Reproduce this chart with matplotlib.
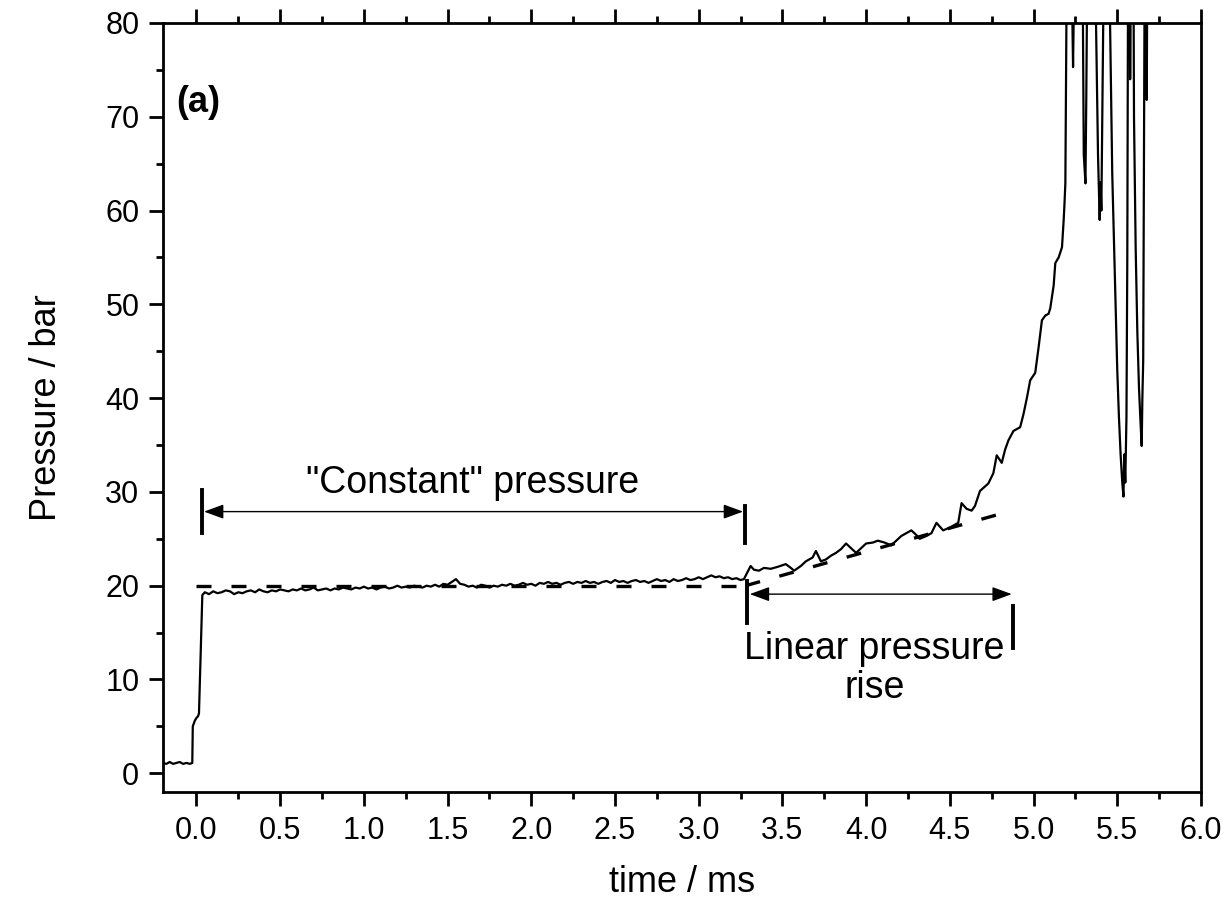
import matplotlib
matplotlib.use("Agg")
import matplotlib.pyplot as plt
from matplotlib.ticker import MultipleLocator

plt.rcParams['font.family'] = ['Liberation Sans', 'DejaVu Sans']

# pressure trace (time in ms, pressure in bar)
t_pre = [-0.2, -0.18, -0.16, -0.14, -0.12, -0.10, -0.08, -0.06, -0.04, -0.025]
p_pre = [1.1, 1.0, 1.2, 1.0, 1.1, 1.2, 1.0, 1.1, 1.0, 1.1]

t_step = [-0.022, -0.01, 0.0, 0.01, 0.015, 0.035, 0.05]
p_step = [5.0, 5.6, 5.9, 6.1, 6.4, 19.0, 19.3]

t_flat = [0.075, 0.1, 0.125, 0.15, 0.175, 0.2, 0.225, 0.25, 0.275, 0.3,
          0.325, 0.35, 0.375, 0.4, 0.425, 0.45, 0.475, 0.5, 0.525, 0.55,
          0.575, 0.6, 0.625, 0.65, 0.675, 0.7, 0.725, 0.75, 0.775, 0.8,
          0.825, 0.85, 0.875, 0.9, 0.925, 0.95, 0.975, 1.0, 1.025, 1.05,
          1.075, 1.1, 1.125, 1.15, 1.175, 1.2, 1.225, 1.25, 1.275, 1.3,
          1.325, 1.35, 1.375, 1.4, 1.425, 1.45, 1.475, 1.5, 1.525, 1.55,
          1.575, 1.6, 1.625, 1.65, 1.675, 1.7, 1.725, 1.75, 1.775, 1.8,
          1.825, 1.85, 1.875, 1.9, 1.925, 1.95, 1.975, 2.0, 2.025, 2.05,
          2.075, 2.1, 2.125, 2.15, 2.175, 2.2, 2.225, 2.25, 2.275, 2.3,
          2.325, 2.35, 2.375, 2.4, 2.425, 2.45, 2.475, 2.5, 2.525, 2.55,
          2.575, 2.6, 2.625, 2.65, 2.675, 2.7, 2.725, 2.75, 2.775, 2.8,
          2.825, 2.85, 2.875, 2.9, 2.925, 2.95, 2.975, 3.0, 3.025, 3.05,
          3.075, 3.1, 3.125, 3.15, 3.175, 3.2, 3.225, 3.25, 3.27]
p_flat = [19.1, 19.4, 19.2, 19.3, 19.5, 19.4, 19.1, 19.3, 19.2, 19.4,
          19.5, 19.3, 19.6, 19.4, 19.3, 19.5, 19.4, 19.6, 19.5, 19.4,
          19.6, 19.5, 19.7, 19.5, 19.6, 19.8, 19.5, 19.6, 19.7, 19.5,
          19.7, 19.6, 19.8, 19.7, 19.6, 19.8, 19.7, 19.9, 19.7, 19.8,
          19.6, 19.8, 19.9, 19.7, 19.8, 20.0, 19.8, 19.9, 19.8, 20.0,
          19.9, 19.8, 20.0, 19.9, 20.1, 19.9, 20.2, 20.1, 20.4, 20.7,
          20.2, 20.1, 19.9, 20.0, 19.8, 20.1, 20.0, 19.8, 20.0, 19.9,
          20.1, 20.0, 20.2, 20.0, 20.1, 20.3, 20.1, 20.2, 20.0, 20.3,
          20.2, 20.4, 20.2, 20.3, 20.1, 20.3, 20.4, 20.2, 20.4, 20.3,
          20.5, 20.3, 20.4, 20.2, 20.4, 20.5, 20.3, 20.6, 20.4, 20.5,
          20.3, 20.5, 20.6, 20.4, 20.5, 20.3, 20.5, 20.7, 20.5, 20.6,
          20.4, 20.7, 20.5, 20.6, 20.8, 20.6, 20.7, 20.9, 20.7, 20.9,
          21.1, 20.9, 21.0, 20.8, 20.9, 20.7, 20.8, 20.6, 20.7]

t_rise = [3.31, 3.33, 3.36, 3.39, 3.43, 3.47, 3.52, 3.55, 3.57, 3.61,
          3.64, 3.68, 3.70, 3.73, 3.76, 3.79, 3.82, 3.85, 3.88, 3.91,
          3.94, 3.97, 4.0, 4.04, 4.07, 4.11, 4.15, 4.18, 4.21, 4.24,
          4.27, 4.30, 4.32, 4.36, 4.39, 4.42, 4.44, 4.46, 4.50, 4.53,
          4.55, 4.57, 4.60, 4.63, 4.65, 4.68, 4.73, 4.76, 4.78, 4.81,
          4.83, 4.85, 4.88, 4.92, 4.94, 4.96, 4.98, 5.01, 5.03, 5.05,
          5.07, 5.09, 5.10, 5.12, 5.13, 5.15, 5.17, 5.18, 5.185, 5.19]
p_rise = [22.1, 21.7, 21.6, 21.9, 21.8, 22.0, 22.3, 21.9, 21.6, 22.1,
          22.6, 23.0, 23.7, 22.6, 22.8, 23.2, 23.5, 23.9, 24.5, 24.0,
          23.5, 24.0, 24.5, 24.6, 24.8, 24.6, 24.3, 24.8, 25.3, 25.6,
          25.9, 25.4, 25.0, 25.3, 25.6, 26.7, 26.3, 25.9, 26.2, 26.5,
          26.7, 28.8, 28.2, 28.0, 28.5, 30.1, 30.9, 32.0, 33.9, 33.1,
          34.5, 35.5, 36.5, 36.9, 38.3, 40.0, 41.9, 42.7, 45.4, 48.3,
          48.8, 49.0, 49.6, 52.0, 54.4, 55.0, 56.1, 59.0, 60.8, 62.9]

t_knock = [5.20, 5.22, 5.236, 5.25, 5.28, 5.295, 5.30, 5.31, 5.315, 5.325,
           5.36, 5.375, 5.385, 5.395, 5.40, 5.405, 5.415, 5.425, 5.45, 5.457,
           5.47, 5.49, 5.50, 5.51, 5.52, 5.53, 5.537, 5.542, 5.548, 5.555,
           5.56, 5.566, 5.572, 5.577, 5.585, 5.595, 5.60, 5.61, 5.62, 5.63,
           5.64, 5.646, 5.65, 5.655, 5.66, 5.666, 5.672, 5.676, 5.682]
p_knock = [90, 95, 75.3, 95, 95, 80, 66, 62.9, 72, 95,
           95, 78, 66, 59.0, 63, 60, 78, 95, 95, 80,
           64, 50, 43, 38, 34, 31, 29.5, 34, 31, 38,
           55, 95, 95, 74, 95, 95, 70, 56, 47, 41,
           37, 34.9, 40, 44, 70, 95, 95, 71.8, 95]

time = t_pre + t_step + t_flat + t_rise + t_knock
pressure = p_pre + p_step + p_flat + p_rise + p_knock

# guide lines
const_t = [0.0, 3.28]
const_p = [20.0, 20.0]
lin_t = [3.28, 4.83]
lin_p = [20.0, 27.8]

fig = plt.figure(figsize=(12.31, 9.09), dpi=100)
ax = fig.add_axes([0.1324, 0.1287, 0.8432, 0.846])

ax.plot(time, pressure, color='k', lw=1.6, zorder=3)
ax.plot(const_t, const_p, color='k', lw=2.4, linestyle=(0, (4.5, 6)), zorder=2)
ax.plot(lin_t, lin_p, color='k', lw=2.4, linestyle=(0, (4.5, 6)), zorder=2)

ax.set_xlim(-0.2, 6.0)
ax.set_ylim(-2, 80)
ax.xaxis.set_major_locator(MultipleLocator(0.5))
ax.xaxis.set_minor_locator(MultipleLocator(0.25))
ax.yaxis.set_major_locator(MultipleLocator(10))
ax.yaxis.set_minor_locator(MultipleLocator(5))
ax.xaxis.set_major_formatter(plt.FuncFormatter(lambda v, p: f"{v:.1f}"))

ax.tick_params(which='both', direction='out', width=2, top=True, right=False,
               labelsize=22, pad=7)
ax.tick_params(which='major', length=10)
ax.tick_params(which='minor', length=5)
for s in ax.spines.values():
    s.set_linewidth(2)

ax.set_xlabel('time / ms', fontsize=26, labelpad=14)
ax.set_ylabel('Pressure / bar', fontsize=26, labelpad=30)

ax.text(-0.12, 71.5, '(a)', fontsize=26, fontweight='bold', va='center', ha='left')

# "Constant" pressure annotation
ax.plot([0.036, 0.036], [25.6, 30.2], color='k', lw=2.8)
ax.plot([3.275, 3.275], [24.6, 28.5], color='k', lw=2.8)
ax.annotate('', xy=(0.045, 27.9), xytext=(3.265, 27.9),
            arrowprops=dict(arrowstyle='<|-|>,head_length=0.6,head_width=0.22',
                            mutation_scale=20, lw=1, color='k',
                            shrinkA=0, shrinkB=0))
ax.text(1.65, 30.9, '"Constant" pressure', fontsize=27, ha='center', va='center')

# Linear pressure rise annotation
ax.plot([3.29, 3.29], [16.0, 20.5], color='k', lw=2.8)
ax.plot([4.88, 4.88], [13.4, 17.8], color='k', lw=2.8)
ax.annotate('', xy=(3.305, 19.1), xytext=(4.87, 19.1),
            arrowprops=dict(arrowstyle='<|-|>,head_length=0.6,head_width=0.22',
                            mutation_scale=20, lw=1, color='k',
                            shrinkA=0, shrinkB=0))
ax.text(4.05, 11.2, 'Linear pressure\nrise', fontsize=27, ha='center', va='center',
        linespacing=1.1)

fig.savefig('out.png', dpi=100)
